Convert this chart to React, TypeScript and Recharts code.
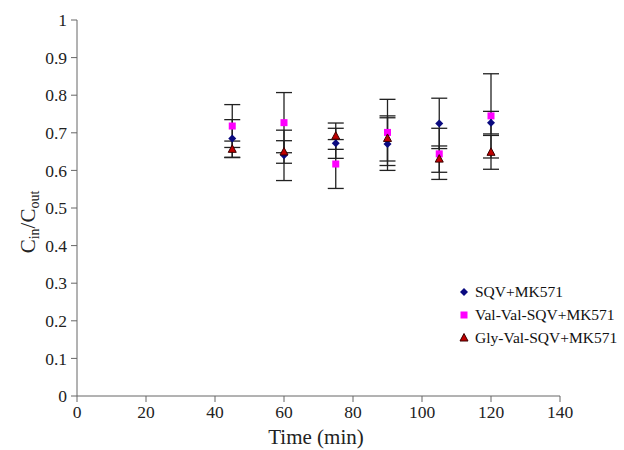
import React from 'react';
import {
  ScatterChart, Scatter, XAxis, YAxis, ErrorBar,
} from 'recharts';

// time points (min)
const times = [45, 60, 75, 90, 105, 120];

// Cin/Cout means and error (±) per series
const sqvMean = [0.685, 0.640, 0.672, 0.670, 0.725, 0.727];
const sqvErr = [0.050, 0.067, 0.040, 0.070, 0.067, 0.030];

const valMean = [0.718, 0.727, 0.617, 0.701, 0.644, 0.745];
const valErr = [0.057, 0.080, 0.065, 0.088, 0.068, 0.112];

const glyMean = [0.656, 0.649, 0.691, 0.685, 0.630, 0.648];
const glyErr = [0.022, 0.030, 0.035, 0.060, 0.035, 0.045];

const xTicks = [0, 20, 40, 60, 80, 100, 120, 140];
const yTicks = [0, 0.1, 0.2, 0.3, 0.4, 0.5, 0.6, 0.7, 0.8, 0.9, 1];

const FONT = 'Liberation Serif';
const AXIS = '#666';
const TEXT = '#222';

const toRows = (mean: number[], err: number[]) =>
  times.map((t, i) => ({ t, y: mean[i], err: err[i] }));

const sqvData = toRows(sqvMean, sqvErr);
const valData = toRows(valMean, valErr);
const glyData = toRows(glyMean, glyErr);

const Diamond = ({ cx, cy }: { cx?: number; cy?: number }) => {
  if (cx == null || cy == null) return null;
  const r = 4;
  return <polygon points={`${cx},${cy - r} ${cx + r},${cy} ${cx},${cy + r} ${cx - r},${cy}`} fill="#0a0a80" />;
};

const Square = ({ cx, cy }: { cx?: number; cy?: number }) => {
  if (cx == null || cy == null) return null;
  return <rect x={cx - 3.5} y={cy - 3.5} width={7} height={7} fill="#ff00ff" />;
};

const Triangle = ({ cx, cy }: { cx?: number; cy?: number }) => {
  if (cx == null || cy == null) return null;
  return (
    <polygon
      points={`${cx},${cy - 4.5} ${cx + 4},${cy + 3} ${cx - 4},${cy + 3}`}
      fill="#c00000" stroke="#3a0000" strokeWidth={1}
    />
  );
};

const legendItems = [
  { label: 'SQV+MK571', Shape: Diamond },
  { label: 'Val-Val-SQV+MK571', Shape: Square },
  { label: 'Gly-Val-SQV+MK571', Shape: Triangle },
];

export default function App() {
  return (
    <div style={{ position: 'absolute', left: 0, top: 0, width: 624, height: 450, background: '#fff' }}>
      <ScatterChart width={624} height={450} margin={{ top: 20, right: 64, left: 0, bottom: 0 }}>
        <XAxis
          type="number" dataKey="t" domain={[0, 140]} ticks={xTicks}
          height={54}
          stroke={AXIS}
          tick={{ fontSize: 17.5, fill: TEXT, fontFamily: FONT, dy: 2 }}
        />
        <YAxis
          type="number" dataKey="y" domain={[0, 1]} ticks={yTicks}
          width={77}
          stroke={AXIS}
          tick={{ fontSize: 17.5, fill: TEXT, fontFamily: FONT, dx: -2 }}
        />
        <Scatter data={valData} shape={<Square />} isAnimationActive={false}>
          <ErrorBar dataKey="err" direction="y" width={8} stroke={TEXT} strokeWidth={1.3} />
        </Scatter>
        <Scatter data={sqvData} shape={<Diamond />} isAnimationActive={false}>
          <ErrorBar dataKey="err" direction="y" width={8} stroke={TEXT} strokeWidth={1.3} />
        </Scatter>
        <Scatter data={glyData} shape={<Triangle />} isAnimationActive={false}>
          <ErrorBar dataKey="err" direction="y" width={8} stroke={TEXT} strokeWidth={1.3} />
        </Scatter>
      </ScatterChart>
      {/* axis titles */}
      <svg width={624} height={450} style={{ position: 'absolute', left: 0, top: 0, pointerEvents: 'none' }}>
        <text
          x={35} y={222}
          transform="rotate(-90 35 222)"
          textAnchor="middle"
          fontFamily={FONT} fontSize={21} fill={TEXT}
        >
          C<tspan fontSize={14} dy={4}>in</tspan>
          <tspan dy={-4}>/C</tspan>
          <tspan fontSize={14} dy={4}>out</tspan>
        </text>
        <text x={316} y={444} textAnchor="middle" fontFamily={FONT} fontSize={21} fill={TEXT}>
          Time (min)
        </text>
      </svg>
      <div style={{ position: 'absolute', left: 458, top: 280, fontFamily: FONT, fontSize: 15.5, color: '#111' }}>
        {legendItems.map(({ label, Shape }) => (
          <div key={label} style={{ display: 'flex', alignItems: 'center', height: 23 }}>
            <svg width={12} height={12} style={{ marginRight: 5 }}>
              <Shape cx={6} cy={6} />
            </svg>
            <span>{label}</span>
          </div>
        ))}
      </div>
    </div>
  );
}
